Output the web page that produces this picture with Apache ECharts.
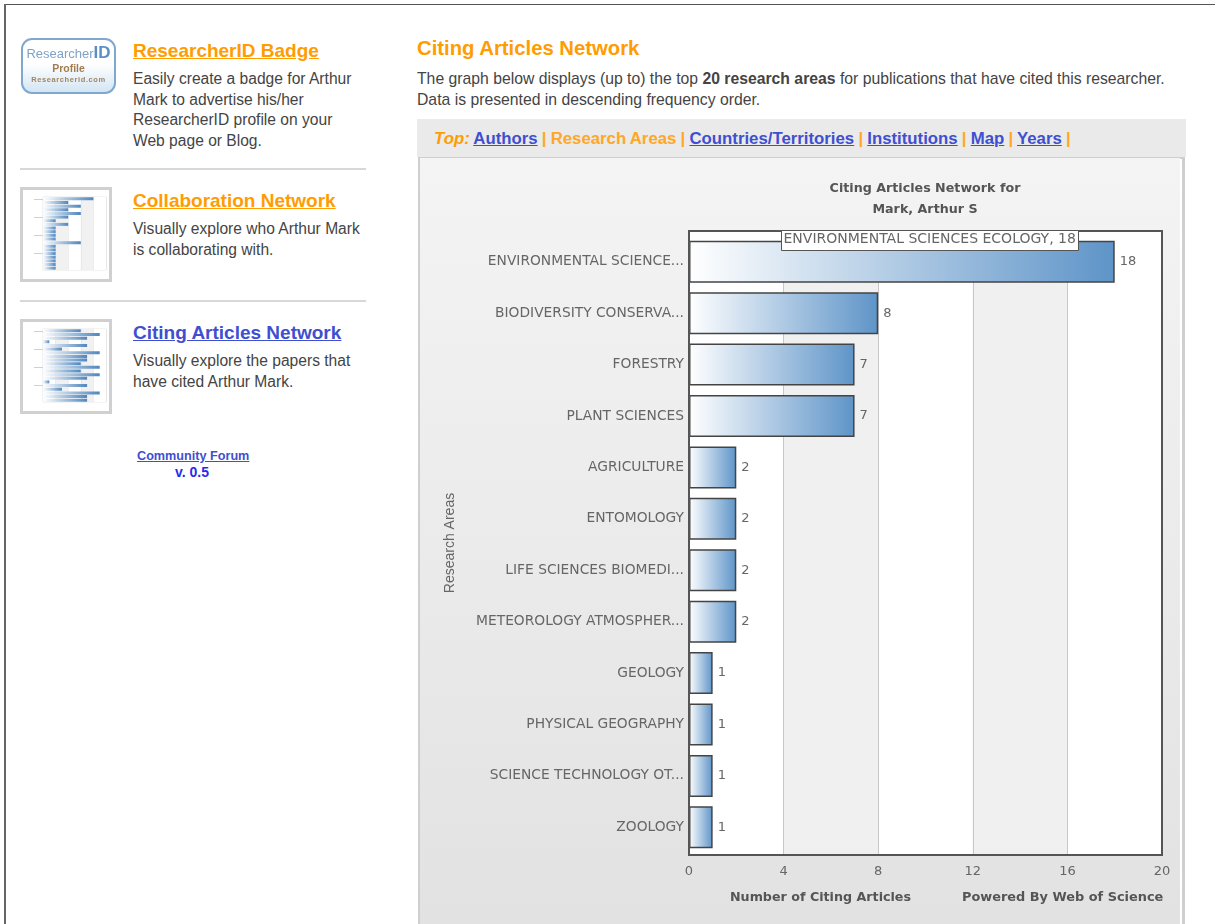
<!DOCTYPE html>
<html>
<head>
<meta charset="utf-8">
<title>Citing Articles Network</title>
<script src="https://cdn.jsdelivr.net/npm/echarts@6/dist/echarts.min.js"></script>
<style>
html, body { margin: 0; padding: 0; background: #fff; overflow: hidden; }
body { width: 1215px; height: 924px; position: relative; font-family: "Liberation Sans", Arial, sans-serif; color: #444; }
.abs { position: absolute; white-space: nowrap; }
.page-top { left: 4px; top: 4px; width: 1211px; height: 1px; background: #555; }
.page-left { left: 4px; top: 4px; width: 2px; height: 920px; background: #666; }
h3 { margin: 0; font-size: 19px; font-weight: bold; line-height: 24px; }
h3 a { color: #ff9c00; text-decoration: underline; }
h3 a.cur { color: #3f4fd0; }
.txt { font-size: 15.6px; line-height: 20.6px; }
.rule { left: 20px; width: 346px; height: 2px; background: #d8d8d8; }
.thumb { left: 20px; width: 86px; height: 89px; border: 3px solid #d0d0d0; background: #fff; filter: blur(0.7px); }
.badge { left: 21px; top: 38px; width: 91px; height: 52px; border: 2px solid #7fa8d0; border-radius: 11px; text-align: center;
  background: linear-gradient(#fff 45%, #d4e5f4); filter: blur(0.4px); }
.badge .b1 { font-size: 13px; line-height: 17px; margin-top: 4px; color: #7fa3c8; }
.badge .b1 b { font-size: 17px; color: #5b8fc4; }
.badge .b2 { font-size: 10.5px; font-weight: bold; line-height: 12px; color: #a07c50; }
.badge .b3 { font-size: 7.5px; font-weight: bold; line-height: 12px; color: #a08660; letter-spacing: .6px; }
.forum { font-size: 12.65px; font-weight: bold; color: #3f4fd0; text-decoration: underline; }
.ver { font-size: 14px; font-weight: bold; color: #2a2af0; }
.tabs { left: 417px; top: 119px; width: 769px; height: 38px; background: #eaeaea; }
.tabs-row { left: 434px; top: 128px; font-size: 16.8px; line-height: 22px; color: #ffb040; font-weight: bold; word-spacing: -0.5px; }
.tabs-row i { color: #ff9c00; }
.tabs-row a { color: #3f4fd0; text-decoration: underline; }
.tabs-row span { color: #ffa726; }
.panel { left: 418px; top: 157px; width: 762px; height: 767px; border: 2px solid #cfcfcf; border-bottom: 0; border-right-width: 3px; }
#chart { position: absolute; left: 420px; top: 158px; width: 760px; height: 766px; }
</style>
</head>
<body>
<div class="abs page-top"></div>
<div class="abs page-left"></div>

<div class="abs badge">
  <div class="b1">Researcher<b>ID</b></div>
  <div class="b2">Profile</div>
  <div class="b3">Researcherid.com</div>
</div>
<h3 class="abs" style="left:133px;top:39px"><a>ResearcherID Badge</a></h3>
<div class="abs txt" style="left:133px;top:69px">Easily create a badge for Arthur<br>Mark to advertise his/her<br>ResearcherID profile on your<br>Web page or Blog.</div>
<div class="abs rule" style="top:168px"></div>

<div class="abs thumb" id="thumbCollab" style="top:187px"></div>
<h3 class="abs" style="left:133px;top:189px"><a>Collaboration Network</a></h3>
<div class="abs txt" style="left:133px;top:219px">Visually explore who Arthur Mark<br>is collaborating with.</div>
<div class="abs rule" style="top:300px"></div>

<div class="abs thumb" id="thumbCiting" style="top:319px"></div>
<h3 class="abs" style="left:133px;top:321px"><a class="cur">Citing Articles Network</a></h3>
<div class="abs txt" style="left:133px;top:351px">Visually explore the papers that<br>have cited Arthur Mark.</div>

<div class="abs forum" style="left:137px;top:449px">Community Forum</div>
<div class="abs ver" style="left:175px;top:464px">v. 0.5</div>

<h3 class="abs" style="left:417px;top:36px;font-size:20.3px"><a style="text-decoration:none">Citing Articles Network</a></h3>
<div class="abs txt" style="left:417px;top:69px;font-size:15.75px">The graph below displays (up to) the top <b>20 research areas</b> for publications that have cited this researcher.<br>Data is presented in descending frequency order.</div>

<div class="abs tabs"></div>
<div class="abs tabs-row"><i>Top:</i> <a>Authors</a> <span>|</span> <span>Research Areas</span> <span>|</span> <a>Countries/Territories</a> <span>|</span> <a>Institutions</a> <span>|</span> <a>Map</a> <span>|</span> <a>Years</a> <span>|</span></div>

<div class="abs panel"></div>
<div id="chart"></div>

<script>
const categories = ['ENVIRONMENTAL SCIENCE...', 'BIODIVERSITY CONSERVA...', 'FORESTRY', 'PLANT SCIENCES', 'AGRICULTURE', 'ENTOMOLOGY',
  'LIFE SCIENCES BIOMEDI...', 'METEOROLOGY ATMOSPHER...', 'GEOLOGY', 'PHYSICAL GEOGRAPHY', 'SCIENCE TECHNOLOGY OT...', 'ZOOLOGY']
const counts = [18, 8, 7, 7, 2, 2, 2, 2, 1, 1, 1, 1]
const xTicks = [0, 4, 8, 12, 16, 20]
// small preview pictures in the left column
const collabCounts = [4, 2, 3, 2, 3, 2, 1, 2, 1, 1, 1, 1, 3, 1, 1, 1, 1, 1, 1, 1]
const citingCounts = [6, 9, 7, 1, 7, 3, 9, 7, 7, 6, 9, 6, 9, 7, 1, 7, 3, 9, 7, 7]

const chartFont = '"DejaVu Sans", Verdana, sans-serif'
const barFill = new echarts.graphic.LinearGradient(0, 0, 1, 0, [
  { offset: 0, color: '#ffffff' },
  { offset: 1, color: '#5e94c8' }
])

const chart = echarts.init(document.getElementById('chart'))
chart.setOption({
  animation: false,
  backgroundColor: new echarts.graphic.LinearGradient(0, 0, 0, 1, [
    { offset: 0, color: '#f4f4f4' },
    { offset: 1, color: '#e2e2e2' }
  ]),
  title: {
    text: 'Citing Articles Network for\nMark, Arthur S',
    left: 500, top: 15, textAlign: 'center',
    textStyle: { fontFamily: chartFont, fontSize: 12.7, fontWeight: 'bold', color: '#555', lineHeight: 21 }
  },
  grid: [
    // frame, bands and the value axis
    { left: 269, top: 73, width: 473, height: 624, z: 10, show: true, backgroundColor: 'transparent', borderColor: '#555', borderWidth: 2 },
    // the bars sit a little lower than the frame
    { left: 269, top: 78, width: 473, height: 617 }
  ],
  xAxis: [
    {
      gridIndex: 0, type: 'value', min: 0, max: 20, interval: 4,
      axisLine: { show: false }, axisTick: { show: false },
      axisLabel: { fontFamily: chartFont, fontSize: 13, color: '#666', margin: 10,
        formatter: (v) => (xTicks.includes(v) ? String(v) : '') },
      splitLine: { show: true, lineStyle: { color: '#c8c8c8', width: 1 } },
      splitArea: { show: true, areaStyle: { color: ['#ffffff', '#f0f0f0'] } }
    },
    { gridIndex: 1, type: 'value', min: 0, max: 20, show: false }
  ],
  yAxis: [
    {
      gridIndex: 0, type: 'category', data: [''], show: true,
      axisLine: { show: false }, axisTick: { show: false }, axisLabel: { show: false },
      name: 'Research Areas', nameLocation: 'middle', nameGap: 232, nameRotate: 90,
      nameTextStyle: { fontFamily: '"Liberation Sans", Arial, sans-serif', fontSize: 14, color: '#666' }
    },
    {
      gridIndex: 1, type: 'category', inverse: true, data: categories,
      axisLine: { show: false }, axisTick: { show: false },
      axisLabel: { fontFamily: chartFont, fontSize: 13.8, color: '#666', margin: 5, overflow: 'none' }
    }
  ],
  series: [{
    type: 'bar', xAxisIndex: 1, yAxisIndex: 1, data: counts, barWidth: 42,
    itemStyle: { color: barFill, borderColor: '#444', borderWidth: 1.5 },
    label: { show: true, position: 'right', distance: 5, fontFamily: chartFont, fontSize: 13, color: '#666' },
    silent: true
  }],
  graphic: [
    { type: 'text', left: 310, top: 733, style: { text: 'Number of Citing Articles', font: 'bold 12.7px ' + chartFont, fill: '#555' } },
    { type: 'text', left: 542, top: 733, style: { text: 'Powered By Web of Science', font: 'bold 12.9px ' + chartFont, fill: '#555' } },
    // hover box left open over the first bar
    { type: 'group', left: 361, top: 72, children: [
      { type: 'rect', z: 50, shape: { x: 0, y: 0, width: 297, height: 20 }, style: { fill: '#fff', stroke: '#555', lineWidth: 1 } },
      { type: 'text', z: 51, x: 2, y: 2, style: { text: 'ENVIRONMENTAL SCIENCES ECOLOGY, 18', font: '14px ' + chartFont, fill: '#666' } }
    ] }
  ]
})

function drawThumb(id, values, maxValue) {
  const thumb = echarts.init(document.getElementById(id))
  thumb.setOption({
    animation: false,
    grid: { left: 20, right: 3, top: 7, bottom: 9, show: true, backgroundColor: '#fff', borderColor: '#ccc', borderWidth: 0.5 },
    xAxis: { type: 'value', min: 0, max: maxValue, axisLabel: { show: false },
      splitLine: { lineStyle: { color: '#ddd', width: 0.5 } },
      splitArea: { show: true, areaStyle: { color: ['#fff', '#f1f1f1'] } } },
    yAxis: { type: 'category', inverse: true, data: values.map((v, i) => i), axisLabel: { show: false }, axisLine: { show: false },
      axisTick: { show: true, alignWithLabel: true, length: 9, lineStyle: { color: '#d0d0d0', width: 1 } } },
    series: [{ type: 'bar', data: values, barWidth: 3,
      itemStyle: { color: new echarts.graphic.LinearGradient(0, 0, 1, 0, [
        { offset: 0, color: '#ffffff' }, { offset: 1, color: '#4f86bd' }]) } }]
  })
}
drawThumb('thumbCollab', collabCounts, 5)
drawThumb('thumbCiting', citingCounts, 10)
</script>
</body>
</html>
